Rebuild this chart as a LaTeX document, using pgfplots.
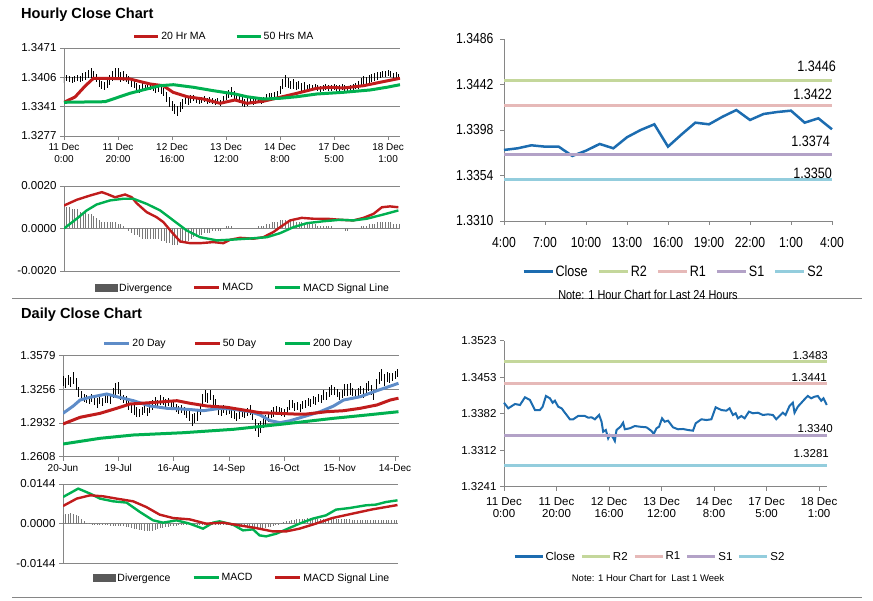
\documentclass[border=0pt]{standalone}
\usepackage{fontspec}
\setmainfont{Liberation Sans}
\newfontfamily\narrowfont[FakeStretch=0.84]{Liberation Sans}
\usepackage{pgfplots}
\usepackage{pgfplotstable}
\pgfplotsset{compat=1.18}

\definecolor{mared}{RGB}{192,28,28}
\definecolor{magreen}{RGB}{0,176,80}
\definecolor{mablue}{RGB}{94,140,200}
\definecolor{closeblue}{RGB}{28,108,176}
\definecolor{rtwo}{RGB}{196,215,155}
\definecolor{rone}{RGB}{230,185,184}
\definecolor{sone}{RGB}{179,162,199}
\definecolor{stwo}{RGB}{147,205,221}
\definecolor{gridgray}{RGB}{134,134,134}
\definecolor{divgray}{RGB}{120,120,120}
\definecolor{divleg}{RGB}{89,89,89}

\pgfplotsset{
  panel/.style={
    scale only axis,
    axis x line*=bottom, axis y line*=left,
    axis line style={draw=gridgray, line width=0.8pt},
    tick style={draw=gridgray, line width=0.8pt},
    tick align=outside, major tick length=4pt,
    grid style={draw=gridgray, line width=0.8pt},
    scaled y ticks=false, scaled x ticks=false,
    legend columns=-1,
    legend style={draw=none, fill=none, inner sep=0pt, outer sep=0pt, anchor=west,
      nodes={inner xsep=1.5pt}},
    legend cell align=left,
  },
  linelegend/.style={legend image code/.code={\draw[##1, line width=3pt] (0pt,0pt) -- (#1,0pt);}},
  divlegend/.style={legend image code/.code={\fill[divleg] (0pt,-3.5pt) rectangle (22pt,3.5pt);}},
}

% hourly high-low bars: index, mid, half range
\pgfplotstableread{
i m e
0 1.34005 0.00066
1 1.34049 0.00066
2 1.34027 0.00066
3 1.34005 0.00066
4 1.34027 0.00066
5 1.34049 0.00066
6 1.34027 0.00066
7 1.34071 0.00088
8 1.34093 0.00088
9 1.34137 0.00088
10 1.34159 0.0011
11 1.34115 0.00088
12 1.34049 0.00088
13 1.33938 0.00088
14 1.33894 0.00088
15 1.33872 0.00088
16 1.33916 0.00088
17 1.34005 0.0011
18 1.34093 0.0011
19 1.34137 0.0013
20 1.34159 0.0011
21 1.34071 0.0011
22 1.34093 0.0011
23 1.34049 0.00088
24 1.34005 0.00088
25 1.33938 0.00088
26 1.33916 0.00088
27 1.33850 0.00088
28 1.33806 0.00088
29 1.33850 0.00088
30 1.33828 0.00066
31 1.33872 0.00088
32 1.33850 0.00066
33 1.33828 0.00066
34 1.33806 0.00088
35 1.33828 0.00088
36 1.33784 0.00088
37 1.33740 0.00088
38 1.33630 0.0011
39 1.33520 0.0011
40 1.33431 0.0011
41 1.33365 0.0011
42 1.33321 0.0011
43 1.33409 0.0011
44 1.33476 0.0011
45 1.33564 0.00088
46 1.33542 0.00088
47 1.33586 0.00088
48 1.33608 0.00066
49 1.33564 0.00066
50 1.33542 0.00066
51 1.33564 0.00066
52 1.33586 0.00066
53 1.33542 0.00066
54 1.33564 0.00066
55 1.33542 0.00066
56 1.33520 0.00066
57 1.33542 0.00066
58 1.33498 0.00066
59 1.33564 0.00088
60 1.33652 0.00088
61 1.33696 0.00088
62 1.33740 0.0011
63 1.33674 0.00088
64 1.33630 0.00088
65 1.33586 0.00088
66 1.33542 0.0011
67 1.33498 0.00088
68 1.33520 0.00088
69 1.33542 0.00066
70 1.33520 0.00066
71 1.33542 0.00066
72 1.33564 0.00066
73 1.33542 0.00066
74 1.33564 0.00066
75 1.33630 0.00066
76 1.33652 0.00066
77 1.33652 0.00066
78 1.33674 0.00066
79 1.33696 0.00066
80 1.33784 0.00088
81 1.33916 0.0011
82 1.33983 0.0013
83 1.33938 0.0011
84 1.33894 0.00088
85 1.33916 0.0011
86 1.33872 0.00088
87 1.33894 0.00088
88 1.33850 0.00088
89 1.33872 0.00088
90 1.33828 0.00066
91 1.33850 0.00066
92 1.33828 0.00066
93 1.33850 0.00066
94 1.33828 0.00066
95 1.33806 0.00066
96 1.33828 0.00066
97 1.33850 0.00066
98 1.33828 0.00066
99 1.33828 0.00066
100 1.33850 0.00066
101 1.33828 0.00066
102 1.33828 0.00066
103 1.33850 0.00066
104 1.33828 0.00066
105 1.33806 0.00066
106 1.33828 0.00066
107 1.33850 0.00066
108 1.33872 0.00066
109 1.33894 0.00088
110 1.33960 0.00088
111 1.34005 0.00088
112 1.33983 0.00088
113 1.34027 0.00088
114 1.34049 0.00088
115 1.34071 0.00088
116 1.34093 0.00088
117 1.34115 0.00066
118 1.34137 0.00066
119 1.34137 0.00066
120 1.34159 0.00066
121 1.34137 0.00066
122 1.34093 0.00066
123 1.34115 0.00066
124 1.34071 0.00066
}\hourbars

% hourly MACD divergence
\pgfplotstableread{
i d
0 0.0011
1 0.0010
2 0.0010
3 0.0009
4 0.0009
5 0.0009
6 0.0008
7 0.0008
8 0.0008
9 0.0007
10 0.0007
11 0.0006
12 0.0005
13 0.0004
14 0.0003
15 0.0003
16 0.0003
17 0.0003
18 0.0003
19 0.0003
20 0.0002
21 0.0002
22 0.0001
23 0.0000
24 -0.0001
25 -0.0002
26 -0.0003
27 -0.0003
28 -0.0004
29 -0.0005
30 -0.0005
31 -0.0005
32 -0.0005
33 -0.0005
34 -0.0005
35 -0.0005
36 -0.0006
37 -0.0006
38 -0.0007
39 -0.0007
40 -0.0008
41 -0.0008
42 -0.0008
43 -0.0007
44 -0.0007
45 -0.0006
46 -0.0006
47 -0.0005
48 -0.0004
49 -0.0004
50 -0.0003
51 -0.0003
52 -0.0002
53 -0.0002
54 -0.0002
55 -0.0001
56 -0.0001
57 -0.0001
58 -0.0001
59 0.0000
60 0.0001
61 0.0001
62 0.0001
63 0.0000
64 0.0000
65 0.0000
66 0.0000
67 0.0000
68 0.0000
69 0.0000
70 0.0000
71 0.0000
72 0.0001
73 0.0001
74 0.0001
75 0.0002
76 0.0002
77 0.0003
78 0.0003
79 0.0003
80 0.0004
81 0.0004
82 0.0004
83 0.0004
84 0.0004
85 0.0004
86 0.0003
87 0.0003
88 0.0003
89 0.0002
90 0.0002
91 0.0002
92 0.0002
93 0.0002
94 0.0001
95 0.0001
96 0.0001
97 0.0001
98 0.0001
99 0.0001
100 0.0000
101 0.0000
102 0.0000
103 0.0000
104 -0.0001
105 -0.0001
106 0.0000
107 0.0000
108 0.0000
109 0.0000
110 0.0001
111 0.0001
112 0.0001
113 0.0002
114 0.0002
115 0.0002
116 0.0003
117 0.0003
118 0.0003
119 0.0003
120 0.0003
121 0.0003
122 0.0002
123 0.0002
124 0.0002
}\hourdiv

% daily high-low bars: index, mid, half range
\pgfplotstableread{
i m e
0 1.33358 0.0048
1 1.33165 0.0048
2 1.33454 0.0048
3 1.33262 0.0048
4 1.33646 0.0058
5 1.33069 0.0058
6 1.32300 0.0048
7 1.31916 0.0048
8 1.31723 0.0038
9 1.31627 0.0038
10 1.31531 0.0038
11 1.31723 0.0038
12 1.31435 0.0038
13 1.31243 0.0048
14 1.31531 0.0038
15 1.31339 0.0038
16 1.31627 0.0038
17 1.31723 0.0048
18 1.31531 0.0038
19 1.32204 0.0048
20 1.32589 0.0058
21 1.32685 0.0058
22 1.32012 0.0048
23 1.31627 0.0038
24 1.31531 0.0038
25 1.31050 0.0048
26 1.30762 0.0048
27 1.30570 0.0048
28 1.30377 0.0048
29 1.30281 0.0038
30 1.30473 0.0038
31 1.30666 0.0038
32 1.30377 0.0038
33 1.30762 0.0048
34 1.31050 0.0048
35 1.31339 0.0048
36 1.31146 0.0038
37 1.31531 0.0048
38 1.31435 0.0038
39 1.31243 0.0038
40 1.31339 0.0038
41 1.31050 0.0038
42 1.30954 0.0038
43 1.30762 0.0038
44 1.30570 0.0038
45 1.30666 0.0038
46 1.30473 0.0038
47 1.30281 0.0048
48 1.29993 0.0048
49 1.29608 0.0058
50 1.29800 0.0048
51 1.29993 0.0048
52 1.30570 0.0048
53 1.31531 0.0058
54 1.31916 0.0058
55 1.31723 0.0048
56 1.32012 0.0048
57 1.31531 0.0048
58 1.31243 0.0038
59 1.30570 0.0048
60 1.30377 0.0038
61 1.30666 0.0038
62 1.30473 0.0038
63 1.30570 0.0038
64 1.30185 0.0038
65 1.30089 0.0038
66 1.29897 0.0038
67 1.30089 0.0038
68 1.30281 0.0038
69 1.30185 0.0038
70 1.30377 0.0038
71 1.30570 0.0048
72 1.30089 0.0048
73 1.29127 0.0058
74 1.28647 0.0067
75 1.28935 0.0058
76 1.29320 0.0048
77 1.29608 0.0048
78 1.29800 0.0038
79 1.30185 0.0038
80 1.30377 0.0048
81 1.30570 0.0038
82 1.30473 0.0038
83 1.30377 0.0038
84 1.30281 0.0038
85 1.30473 0.0038
86 1.31050 0.0048
87 1.31146 0.0038
88 1.30858 0.0038
89 1.30954 0.0038
90 1.30762 0.0038
91 1.31050 0.0038
92 1.31146 0.0038
93 1.31339 0.0038
94 1.31243 0.0038
95 1.31531 0.0038
96 1.31435 0.0038
97 1.31723 0.0038
98 1.31627 0.0038
99 1.32012 0.0048
100 1.31916 0.0038
101 1.32300 0.0048
102 1.32492 0.0048
103 1.32396 0.0038
104 1.32204 0.0038
105 1.31916 0.0038
106 1.32108 0.0038
107 1.32492 0.0058
108 1.32492 0.0058
109 1.32589 0.0058
110 1.32300 0.0038
111 1.32108 0.0038
112 1.32300 0.0038
113 1.32492 0.0038
114 1.32204 0.0048
115 1.32685 0.0048
116 1.32877 0.0048
117 1.32492 0.0048
118 1.32012 0.0048
119 1.32973 0.0058
120 1.33646 0.0058
121 1.33935 0.0058
122 1.33454 0.0058
123 1.33742 0.0048
124 1.33646 0.0048
125 1.33742 0.0038
126 1.33935 0.0038
127 1.34127 0.0038
}\daybars

% daily MACD divergence
\pgfplotstableread{
i d
0 0.0030
1 0.0034
2 0.0036
3 0.0037
4 0.0036
5 0.0033
6 0.0028
7 0.0018
8 0.0010
9 0.0004
10 0.0001
11 -0.0002
12 -0.0003
13 -0.0004
14 -0.0004
15 -0.0005
16 -0.0005
17 -0.0006
18 -0.0007
19 -0.0007
20 -0.0008
21 -0.0008
22 -0.0009
23 -0.0010
24 -0.0012
25 -0.0013
26 -0.0015
27 -0.0018
28 -0.0020
29 -0.0022
30 -0.0024
31 -0.0025
32 -0.0026
33 -0.0026
34 -0.0025
35 -0.0023
36 -0.0020
37 -0.0017
38 -0.0015
39 -0.0013
40 -0.0011
41 -0.0009
42 -0.0008
43 -0.0007
44 -0.0006
45 -0.0005
46 -0.0005
47 -0.0005
48 -0.0005
49 -0.0005
50 -0.0005
51 -0.0005
52 -0.0005
53 -0.0004
54 -0.0004
55 -0.0003
56 -0.0002
57 -0.0002
58 -0.0002
59 -0.0002
60 -0.0002
61 -0.0003
62 -0.0004
63 -0.0006
64 -0.0008
65 -0.0010
66 -0.0011
67 -0.0012
68 -0.0012
69 -0.0012
70 -0.0012
71 -0.0012
72 -0.0013
73 -0.0014
74 -0.0015
75 -0.0016
76 -0.0016
77 -0.0015
78 -0.0013
79 -0.0011
80 -0.0008
81 -0.0005
82 -0.0002
83 0.0002
84 0.0005
85 0.0008
86 0.0011
87 0.0013
88 0.0015
89 0.0016
90 0.0017
91 0.0018
92 0.0018
93 0.0019
94 0.0019
95 0.0019
96 0.0019
97 0.0018
98 0.0018
99 0.0018
100 0.0018
101 0.0017
102 0.0017
103 0.0017
104 0.0017
105 0.0016
106 0.0016
107 0.0016
108 0.0016
109 0.0016
110 0.0015
111 0.0015
112 0.0015
113 0.0015
114 0.0014
115 0.0014
116 0.0014
117 0.0013
118 0.0013
119 0.0013
120 0.0013
121 0.0013
122 0.0013
123 0.0013
124 0.0013
125 0.0013
126 0.0012
127 0.0012
}\daydiv

\begin{document}
\begin{tikzpicture}
\path[use as bounding box] (0pt,0pt) rectangle (873pt,-601pt);

\node[anchor=west, inner sep=0pt, font=\bfseries\fontsize{14.6}{16}\selectfont] at (21pt,-14.5pt) {Hourly Close Chart};
\node[anchor=west, inner sep=0pt, font=\bfseries\fontsize{14.6}{16}\selectfont] at (21pt,-314.5pt) {Daily Close Chart};
\draw[gridgray, line width=1pt] (12pt,-298.5pt) -- (862pt,-298.5pt);
\draw[gridgray, line width=1pt] (12pt,-597pt) -- (862pt,-597pt);

% ---------- hourly price ----------
\begin{axis}[panel, at={(64pt,-136pt)}, anchor=south west,
  width=336pt, height=88pt,
  xmin=0, xmax=124.4, ymin=1.3277, ymax=1.3471,
  ytick={1.3277,1.33417,1.34063,1.3471},
  yticklabels={1.3277,1.3341,1.3406,1.3471},
  ymajorgrids,
  xtick={0,20,...,120},
  xticklabels={{11 Dec\\0:00},{11 Dec\\20:00},{12 Dec\\16:00},{13 Dec\\12:00},{14 Dec\\8:00},{17 Dec\\5:00},{18 Dec\\1:00}},
  yticklabel style={font=\fontsize{11.5}{12}\selectfont},
  xticklabel style={font=\fontsize{10}{12}\selectfont, align=center},
  linelegend=24pt,
  legend style={at={(0.205,1.125)}, font=\fontsize{10.5}{12}\selectfont,
    /tikz/every even column/.append style={column sep=28pt}},
]
\addplot[draw=none, mark=none, forget plot, error bars/.cd, y dir=both, y explicit,
  error mark=none, error bar style={draw=black, line width=1pt}]
  table[x=i, y=m, y error=e] {\hourbars};
\addplot[mared, line width=3pt, mark=none] coordinates {
(0,1.33513)(4.1,1.3363)(7.8,1.3387)(10.9,1.34042)(17,1.3404)(24.4,1.34027)(28.1,1.33972)
(31.9,1.33916)(36.7,1.33879)(40.4,1.33733)(45.6,1.33636)(51.5,1.33586)(57.8,1.33491)
(63.3,1.33564)(67.7,1.33491)(73.7,1.33535)(80,1.33623)(86.2,1.33711)(93.6,1.33822)
(98.5,1.33844)(103.4,1.33828)(110.9,1.33879)(117,1.33954)(124.4,1.34042)};
\addlegendentry{20 Hr MA}
\addplot[magreen, line width=3pt, mark=none] coordinates {
(0,1.33513)(15.2,1.33526)(24.4,1.33711)(30.6,1.33806)(35.6,1.33879)(40.5,1.33901)
(47.9,1.33844)(55.3,1.33769)(63.3,1.33696)(67.7,1.33636)(73.8,1.33586)(80,1.33601)
(86.2,1.33636)(93.6,1.33696)(103.4,1.33733)(113.3,1.33784)(119.5,1.33844)(124.4,1.33901)};
\addlegendentry{50 Hrs MA}
\end{axis}

% ---------- hourly MACD ----------
\begin{axis}[panel, at={(64pt,-271pt)}, anchor=south west,
  width=336pt, height=85pt,
  axis x line=none,
  xmin=0, xmax=124.4, ymin=-0.002, ymax=0.002,
  ytick={-0.002,0,0.002}, yticklabels={-0.0020,0.0000,0.0020},
  ymajorgrids,
  yticklabel style={font=\fontsize{11.5}{12}\selectfont},
  linelegend=25pt,
  legend style={at={(0.092,-0.2)}, font=\fontsize{10.5}{12}\selectfont,
    /tikz/every even column/.append style={column sep=19pt}},
]
\addplot[ycomb, draw=divgray, line width=0.8pt, mark=none, divlegend]
  table[x=i, y=d] {\hourdiv};
\addlegendentry{Divergence}
\addplot[mared, line width=2.4pt, mark=none] coordinates {
(0,0.00108)(4.7,0.00135)(9.6,0.00155)(14,0.00171)(15.8,0.00163)(18.9,0.00147)(22.6,0.0016)
(25.1,0.00147)(26.9,0.00119)(30.6,0.00077)(34.3,0.00053)(36.8,0.0003)(39.9,-0.00017)
(43,-0.00061)(46.7,-0.00069)(50.4,-0.00069)(55.3,-0.00064)(59,-0.00069)(61.5,-0.00053)
(65.2,-0.00044)(70.1,-0.00048)(73.8,-0.00041)(77.5,-0.00017)(80,0.00006)(83.7,0.00038)
(88,0.0005)(92.3,0.00046)(97.3,0.00046)(102.2,0.00041)(107.1,0.00038)(110.9,0.0005)
(114.6,0.00069)(117.7,0.001)(120.7,0.00104)(123.8,0.001)};
\addlegendentry{MACD}
\addplot[magreen, line width=2.4pt, mark=none] coordinates {
(0,0)(4.7,0.00046)(8.4,0.00085)(12.1,0.00113)(17,0.00132)(22,0.0014)(25.7,0.0014)
(30.6,0.00116)(35.6,0.00085)(40.5,0.00038)(45.4,-0.00009)(50.4,-0.00041)(56.6,-0.00056)
(62.7,-0.00052)(70.1,-0.00046)(75.1,-0.00041)(80,-0.00022)(84.9,0.00006)(89.9,0.00025)
(96,0.00034)(102.2,0.00041)(107.1,0.00038)(112.1,0.00046)(118.3,0.00066)(123.8,0.00085)};
\addlegendentry{MACD Signal Line}
\end{axis}

% ---------- last 24 hours ----------
\begin{axis}[panel, at={(504pt,-221pt)}, anchor=south west,
  width=328pt, height=182pt, clip=false,
  xmin=0, xmax=24, ymin=1.331, ymax=1.3486,
  ytick={1.331,1.3354,1.3398,1.3442,1.3486},
  yticklabels={1.3310,1.3354,1.3398,1.3442,1.3486},
  xtick={0,3,...,24},
  xticklabels={4:00,7:00,10:00,13:00,16:00,19:00,22:00,1:00,4:00},
  yticklabel style={font=\narrowfont\fontsize{14.5}{16}\selectfont, xshift=-3pt},
  xticklabel style={font=\narrowfont\fontsize{14.5}{16}\selectfont, yshift=-9pt},
  linelegend=29pt,
  legend style={at={(0.055,-0.28)}, font=\narrowfont\fontsize{15}{17}\selectfont,
    /tikz/every even column/.append style={column sep=8pt}},
]
\addplot[closeblue, line width=2.5pt, mark=none] coordinates {
(0,1.33787)(1,1.33803)(2,1.33832)(3,1.33819)(4,1.33819)(5,1.33729)(6,1.3378)(7,1.33845)
(8,1.33803)(9,1.3391)(10,1.3398)(11,1.34035)(12,1.33819)(13,1.33938)(14,1.34051)
(15,1.34035)(16,1.34109)(17,1.34173)(18,1.34077)(19,1.34135)(20,1.34154)(21,1.34167)
(22,1.34051)(23,1.34093)(24,1.33987)};
\addlegendentry{Close}
\addplot[rtwo, line width=3pt, mark=none] coordinates {(0,1.3446)(24,1.3446)};
\addlegendentry{R2}
\addplot[rone, line width=3pt, mark=none] coordinates {(0,1.3422)(24,1.3422)};
\addlegendentry{R1}
\addplot[sone, line width=3pt, mark=none] coordinates {(0,1.3374)(24,1.3374)};
\addlegendentry{S1}
\addplot[stwo, line width=3pt, mark=none] coordinates {(0,1.335)(24,1.335)};
\addlegendentry{S2}
\begin{scope}[every node/.style={anchor=south east, inner sep=0pt, font=\narrowfont\fontsize{15}{17}\selectfont}]
\node[xshift=4pt, yshift=9pt] at (axis cs:24,1.3446) {1.3446};
\node[yshift=5pt] at (axis cs:24,1.3422) {1.3422};
\node[xshift=-2pt, yshift=8pt] at (axis cs:24,1.3374) {1.3374};
\node[yshift=1pt] at (axis cs:24,1.335) {1.3350};
\end{scope}
\end{axis}
\node[font=\narrowfont\fontsize{13}{15}\selectfont] at (648pt,-295pt) {Note: 1 Hour Chart for Last 24 Hours};

% ---------- daily price ----------
\begin{axis}[panel, at={(63pt,-456.7pt)}, anchor=south west,
  width=336pt, height=101pt,
  xmin=0, xmax=127.5, ymin=1.2608, ymax=1.3579,
  ytick={1.2608,1.29317,1.32553,1.3579},
  yticklabels={1.2608,1.2932,1.3256,1.3579},
  ymajorgrids,
  xtick={0,21,...,126},
  xticklabels={20-Jun,19-Jul,16-Aug,14-Sep,16-Oct,15-Nov,14-Dec},
  yticklabel style={font=\fontsize{11.5}{12}\selectfont},
  xticklabel style={font=\fontsize{10}{12}\selectfont},
  linelegend=25pt,
  legend style={at={(0.119,1.116)}, font=\fontsize{10.5}{12}\selectfont,
    /tikz/every even column/.append style={column sep=26pt}},
]
\addplot[draw=none, mark=none, forget plot, error bars/.cd, y dir=both, y explicit,
  error mark=none, error bar style={draw=black, line width=1pt}]
  table[x=i, y=m, y error=e] {\daybars};
\addplot[mablue, line width=3pt, mark=none] coordinates {
(0,1.30252)(3.9,1.30954)(6.5,1.31531)(10.3,1.31791)(16.6,1.32108)(20.4,1.31848)(26.7,1.31464)
(33,1.30954)(39.4,1.30733)(47,1.30637)(53.3,1.30502)(59.6,1.30733)(64.7,1.30637)(71,1.30406)
(74.8,1.30089)(78.6,1.29541)(82.4,1.29349)(86.2,1.29541)(91.3,1.29926)(97.6,1.30406)
(102.7,1.30954)(106.5,1.31531)(112.8,1.31848)(119.1,1.32425)(122.9,1.32752)(127.3,1.33137)};
\addlegendentry{20 Day}
\addplot[mared, line width=3pt, mark=none] coordinates {
(0,1.29224)(6.5,1.29868)(14.1,1.30252)(20.4,1.30733)(25.4,1.31146)(33,1.31271)(43.2,1.31464)
(48.2,1.31214)(54.6,1.30954)(62.2,1.30829)(68.5,1.30569)(74.8,1.3031)(81.2,1.30252)
(87.5,1.30185)(92.5,1.30185)(100.1,1.30406)(106.5,1.30502)(112.8,1.30733)(119.1,1.3105)
(124.2,1.31531)(127.3,1.31705)};
\addlegendentry{50 Day}
\addplot[magreen, line width=3pt, mark=none] coordinates {
(0,1.27301)(14.1,1.27849)(26.7,1.28166)(45.7,1.28387)(64.7,1.28714)(83.7,1.29224)
(102.7,1.29772)(115.3,1.30089)(127.3,1.30406)};
\addlegendentry{200 Day}
\end{axis}

% ---------- daily MACD ----------
\begin{axis}[panel, at={(63pt,-563.3pt)}, anchor=south west,
  width=335pt, height=79.3pt,
  axis x line=none,
  xmin=0, xmax=127.5, ymin=-0.0144, ymax=0.0144,
  ytick={-0.0144,0,0.0144}, yticklabels={-0.0144,0.0000,0.0144},
  ymajorgrids,
  yticklabel style={font=\fontsize{11.5}{12}\selectfont},
  linelegend=25pt,
  legend style={at={(0.09,-0.185)}, font=\fontsize{10.5}{12}\selectfont,
    /tikz/every even column/.append style={column sep=20pt}},
]
\addplot[ycomb, draw=divgray, line width=0.8pt, mark=none, divlegend]
  table[x=i, y=d] {\daydiv};
\addlegendentry{Divergence}
\addplot[magreen, line width=2.4pt, mark=none] coordinates {
(0,0.00967)(5.8,0.01273)(10.3,0.01091)(14.1,0.00909)(19.1,0.00811)(24.2,0.00764)(29.3,0.00422)
(34.3,0.0012)(38.1,0.00036)(43.2,0.0012)(48.2,0)(53.3,-0.00182)(57.1,0.00036)(59.6,0.00084)
(64.7,-0.00036)(68.5,-0.00244)(72.3,-0.00207)(74.8,-0.00425)(77.3,-0.00462)(81.2,-0.00364)
(85,-0.00207)(90,0)(95.1,0.00182)(100.1,0.00302)(103.9,0.00509)(109,0.00567)(115.2,0.00665)
(119.1,0.00691)(122.9,0.00785)(127.3,0.00847)};
\addlegendentry{MACD}
\addplot[mared, line width=2.4pt, mark=none] coordinates {
(0,0.0064)(5.2,0.00909)(10.3,0.01029)(15.3,0.00993)(20.4,0.00909)(26.7,0.00811)(31.7,0.00604)
(36.8,0.00327)(41.9,0.00204)(48.2,0.00156)(54.5,0)(60.8,0.00036)(67.2,-0.00062)(73.5,-0.0016)
(79.8,-0.0028)(85,-0.0028)(90,-0.00182)(96.2,0)(102.5,0.00204)(110.2,0.00364)(117.8,0.0052)
(127.3,0.00676)};
\addlegendentry{MACD Signal Line}
\end{axis}

% ---------- last week ----------
\begin{axis}[panel, at={(504pt,-486.7pt)}, anchor=south west,
  width=323pt, height=146pt, clip=false,
  xmin=0, xmax=123, ymin=1.3241, ymax=1.3523,
  ytick={1.3241,1.33115,1.3382,1.34525,1.3523},
  yticklabels={1.3241,1.3312,1.3382,1.3453,1.3523},
  xtick={0,20,...,120},
  xticklabels={{11 Dec\\0:00},{11 Dec\\20:00},{12 Dec\\16:00},{13 Dec\\12:00},{14 Dec\\8:00},{17 Dec\\5:00},{18 Dec\\1:00}},
  yticklabel style={font=\fontsize{11.5}{12}\selectfont},
  xticklabel style={font=\fontsize{11.5}{12.5}\selectfont, align=center, yshift=-3pt},
  linelegend=28pt,
  legend style={at={(0.028,-0.48)}, font=\fontsize{11.5}{13}\selectfont,
    /tikz/every even column/.append style={column sep=4pt}},
]
\addplot[closeblue, line width=2pt, mark=none] coordinates {
(0,1.34032)(1.63,1.33924)(4.18,1.34007)(6.08,1.33988)(7.98,1.34137)(9.89,1.34085)(11.79,1.33891)
(13.69,1.33891)(14.71,1.33955)(15.97,1.34162)(17.49,1.34117)(18.52,1.34032)(19.39,1.34071)
(20.64,1.33955)(21.94,1.33924)(23.19,1.33839)(25.09,1.33712)(26.35,1.33712)(28.25,1.33776)
(30.8,1.33776)(32.05,1.33743)(33.34,1.3375)(34.6,1.33712)(36.23,1.33795)(37.15,1.33665)
(37.76,1.33472)(38.78,1.33505)(39.66,1.33345)(40.3,1.33409)(41.33,1.33376)(42.2,1.33293)
(42.85,1.33505)(44.37,1.33569)(45.36,1.33646)(46,1.33519)(47.91,1.33538)(49.81,1.33582)
(51.71,1.33569)(54.26,1.33557)(56.16,1.33486)(57.03,1.33428)(58.06,1.33538)(59.05,1.33569)
(60.19,1.33731)(61.21,1.33665)(62.47,1.33685)(64.37,1.33557)(66.27,1.33519)(68.17,1.33525)
(70.07,1.33505)(71.97,1.33492)(73,1.33635)(75.17,1.33712)(77.07,1.33698)(78.97,1.33712)
(80.6,1.33944)(82.77,1.33891)(84.67,1.33878)(85.93,1.33924)(87.18,1.33795)(88.21,1.33828)
(89.08,1.33731)(90.37,1.33776)(91.63,1.33731)(93.26,1.33859)(94.78,1.33828)(96.68,1.33839)
(98.58,1.33795)(100.49,1.33808)(102.39,1.33795)(103.68,1.33712)(104.93,1.33776)
(106.19,1.33839)(107.21,1.33795)(108.73,1.33969)(109.99,1.34032)(110.64,1.33839)
(111.89,1.33955)(112.81,1.34007)(114.44,1.34098)(115.7,1.34162)(116.99,1.34117)
(118.24,1.34148)(119.5,1.34162)(120.79,1.34071)(121.66,1.34117)(122.9,1.33988)};
\addlegendentry{Close}
\addplot[rtwo, line width=3pt, mark=none] coordinates {(0,1.3483)(123,1.3483)};
\addlegendentry{R2}
\addplot[rone, line width=3pt, mark=none] coordinates {(0,1.3441)(123,1.3441)};
\addlegendentry{R1}
\addplot[sone, line width=3pt, mark=none] coordinates {(0,1.334)(123,1.334)};
\addlegendentry{S1}
\addplot[stwo, line width=3pt, mark=none] coordinates {(0,1.3281)(123,1.3281)};
\addlegendentry{S2}
\begin{scope}[every node/.style={anchor=south east, inner sep=0pt, font=\fontsize{11.5}{13}\selectfont}]
\node[xshift=1pt, yshift=2pt] at (axis cs:123,1.3483) {1.3483};
\node[yshift=1pt] at (axis cs:123,1.3441) {1.3441};
\node[xshift=6pt, yshift=3pt] at (axis cs:123,1.334) {1.3340};
\node[xshift=2pt, yshift=8pt] at (axis cs:123,1.3281) {1.3281};
\end{scope}
\end{axis}
\node[font=\fontsize{9.5}{11}\selectfont] at (648pt,-578pt) {Note: 1 Hour Chart for\ \ Last 1 Week};

\end{tikzpicture}
\end{document}
